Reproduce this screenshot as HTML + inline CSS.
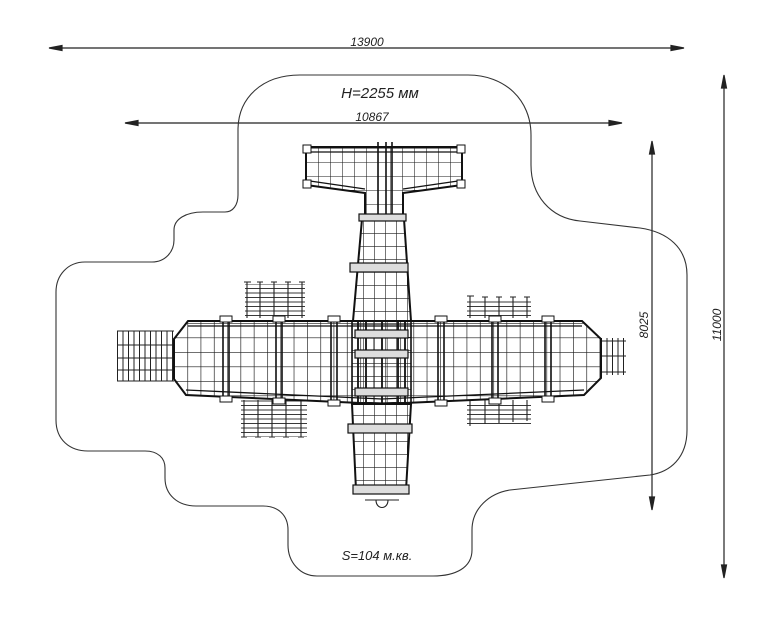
<!DOCTYPE html>
<html><head><meta charset="utf-8"><style>
html,body{margin:0;padding:0;background:#fff;}
svg{display:block;}
text{font-family:"Liberation Sans",sans-serif;font-style:italic;fill:#222;}
</style></head><body>
<svg width="768" height="628" viewBox="0 0 768 628" xmlns="http://www.w3.org/2000/svg">
<defs>
<pattern id="wg" patternUnits="userSpaceOnUse" x="174" y="323" width="13.3" height="14.5">
<path d="M0 0V14.5M0 0H13.3" stroke="#1a1a1a" stroke-width="1.3" fill="none"/>
</pattern>
<pattern id="fg" patternUnits="userSpaceOnUse" x="352" y="220" width="11" height="13">
<path d="M0 0V13M0 0H11" stroke="#1a1a1a" stroke-width="1.2" fill="none"/>
</pattern>
<pattern id="tg" patternUnits="userSpaceOnUse" x="306" y="148" width="12" height="14">
<path d="M0 0V14M0 0H12" stroke="#1a1a1a" stroke-width="1.1" fill="none"/>
</pattern>
<pattern id="lh" patternUnits="userSpaceOnUse" x="0" y="0" width="12" height="4.5">
<path d="M0 0.5H12" stroke="#222" stroke-width="0.9" fill="none"/>
</pattern>
<pattern id="lv" patternUnits="userSpaceOnUse" x="117" y="0" width="5.5" height="13">
<path d="M0.5 0V13" stroke="#222" stroke-width="1" fill="none"/>
</pattern>
</defs>

<!-- dimensions -->
<g stroke="#222" stroke-width="1.2" fill="#222">
<line x1="58" y1="48" x2="676" y2="48"/>
<polygon points="49,48 62,45.5 62,50.5"/><polygon points="684,48 671,45.5 671,50.5"/>
<line x1="134" y1="123" x2="614" y2="123"/>
<polygon points="125,123 138,120.5 138,125.5"/><polygon points="622,123 609,120.5 609,125.5"/>
<line x1="652" y1="150" x2="652" y2="502"/>
<polygon points="652,141 649.5,154 654.5,154"/><polygon points="652,510 649.5,497 654.5,497"/>
<line x1="724" y1="84" x2="724" y2="570"/>
<polygon points="724,75 721.5,88 726.5,88"/><polygon points="724,578 721.5,565 726.5,565"/>
</g>
<text x="367" y="46" font-size="12" text-anchor="middle">13900</text>
<text x="372" y="121" font-size="12" text-anchor="middle">10867</text>
<text x="380" y="98" font-size="15" text-anchor="middle">H=2255 мм</text>
<text x="377" y="560" font-size="13" text-anchor="middle">S=104 м.кв.</text>
<text transform="translate(648,325) rotate(-90)" font-size="12" text-anchor="middle">8025</text>
<text transform="translate(721,325) rotate(-90)" font-size="12" text-anchor="middle">11000</text>

<!-- outline -->
<path fill="none" stroke="#333" stroke-width="1.1" d="
M300 75 H468 C505 75 531 100 531 135 V165 C531 195 550 218 580 221 L640 228 C668 232 687 248 687 275 V430 C687 458 670 472 650 475 L510 490 C490 493 472 508 472 530 V550 C472 568 455 576 433 576 H317 C300 576 288 562 288 545 V530 C288 515 278 506 263 506 H196 C178 506 165 495 165 478 V468 C165 458 158 451 145 451 H88 C70 451 56 440 56 420 V292 C56 275 68 262 85 262 H152 C165 262 174 252 174 240 V230 C174 219 186 212 203 212 H225 C233 212 238 205 238 195 V130 C238 98 262 75 300 75 Z"/>

<!-- side ladders -->
<g stroke="#222" stroke-width="1.1" fill="none">
<rect x="245" y="284" width="60" height="34" fill="url(#lh)" stroke="none"/>
<rect x="241" y="400" width="66" height="37" fill="url(#lh)" stroke="none"/>
<rect x="467" y="298" width="64" height="20" fill="url(#lh)" stroke="none"/>
<rect x="467" y="402" width="64" height="22" fill="url(#lh)" stroke="none"/>
<path d="M247 282V318M260 282V318M274 282V318M288 282V318M302 282V318 M244 282H251M257 282H263M271 282H277M285 282H291M299 282H305"/>
<path d="M244 400V437M258 400V437M272 400V437M286 400V437M301 400V437 M241 437H247M255 437H261M269 437H275M283 437H289M298 437H304"/>
<path d="M470 296V318M485 297V318M499 297V318M513 297V318M527 297V318 M467 296H474M482 297H488M496 297H502M510 297H516M524 297H530"/>
<path d="M470 400V426M485 400V424M499 400V423M513 400V422M527 400V421"/>
<rect x="117" y="331" width="57" height="50" fill="url(#lv)" stroke="none"/>
<path d="M117 331H174M117 345H174M117 358H174M117 370H174M117 381H174"/>
<rect x="601" y="338" width="25" height="37" fill="url(#lv)" stroke="none"/>
<path d="M601 341H626M601 356H626M601 372H626"/>
</g>

<!-- wing -->
<path d="M188 321 H582 L601 339 V378 L584 395 L382 404 L186 395 L174 379 V339 Z" fill="url(#wg)" stroke="#111" stroke-width="2"/>
<path d="M188 326 H582 M186 390 L382 399 L584 390" stroke="#111" stroke-width="1.3" fill="none"/>
<g stroke="#111" stroke-width="1.6" fill="none">
<path d="M223 321V398M229 321V398M276 321V400M282 321V400M331 321V402M337 321V402M438 321V402M444 321V402M492 321V400M498 321V400M545 321V398M551 321V398"/>
</g>
<g fill="#fff" stroke="#111" stroke-width="1">
<rect x="220" y="316" width="12" height="6"/><rect x="273" y="316" width="12" height="6"/><rect x="328" y="316" width="12" height="6"/><rect x="435" y="316" width="12" height="6"/><rect x="489" y="316" width="12" height="6"/><rect x="542" y="316" width="12" height="6"/>
<rect x="220" y="396" width="12" height="6"/><rect x="273" y="398" width="12" height="6"/><rect x="328" y="400" width="12" height="6"/><rect x="435" y="400" width="12" height="6"/><rect x="489" y="398" width="12" height="6"/><rect x="542" y="396" width="12" height="6"/>
</g>

<!-- tail -->
<path d="M306 147 H462 V185 L403 193 V217 H365 V193 L306 185 Z" fill="url(#tg)" stroke="#111" stroke-width="2"/>
<path d="M310 152H458M310 181L365 189M458 181L403 189" stroke="#111" stroke-width="1.2" fill="none"/>
<path d="M378 142V217M386 142V217M392 142V217" stroke="#111" stroke-width="1.6"/>
<g fill="#fff" stroke="#111"><rect x="303" y="145" width="8" height="8"/><rect x="457" y="145" width="8" height="8"/><rect x="303" y="180" width="8" height="8"/><rect x="457" y="180" width="8" height="8"/></g>

<!-- fuselage -->
<path d="M362 219 H404 L411 321 H353 Z" fill="url(#fg)" stroke="#111" stroke-width="2"/>
<path d="M352 404 H411 L406 490 H356 Z" fill="url(#fg)" stroke="#111" stroke-width="2"/>
<rect x="352" y="321" width="59" height="83" fill="url(#fg)" stroke="#111" stroke-width="1.6"/>
<path d="M358 321V404M366 321V404M398 321V404M405 321V404M382 321V404" stroke="#111" stroke-width="1.8"/>
<g fill="#ddd" stroke="#111" stroke-width="1.2">
<rect x="359" y="214" width="47" height="7"/>
<rect x="350" y="263" width="58" height="9"/>
<rect x="348" y="424" width="64" height="9"/>
<rect x="353" y="485" width="56" height="9"/>
<rect x="355" y="330" width="53" height="8"/>
<rect x="355" y="350" width="53" height="8"/>
<rect x="355" y="388" width="53" height="8"/>
</g>
<path d="M365 500H399M376 500 C376 510 388 510 388 500" stroke="#222" stroke-width="1.1" fill="none"/>
</svg>
</body></html>
